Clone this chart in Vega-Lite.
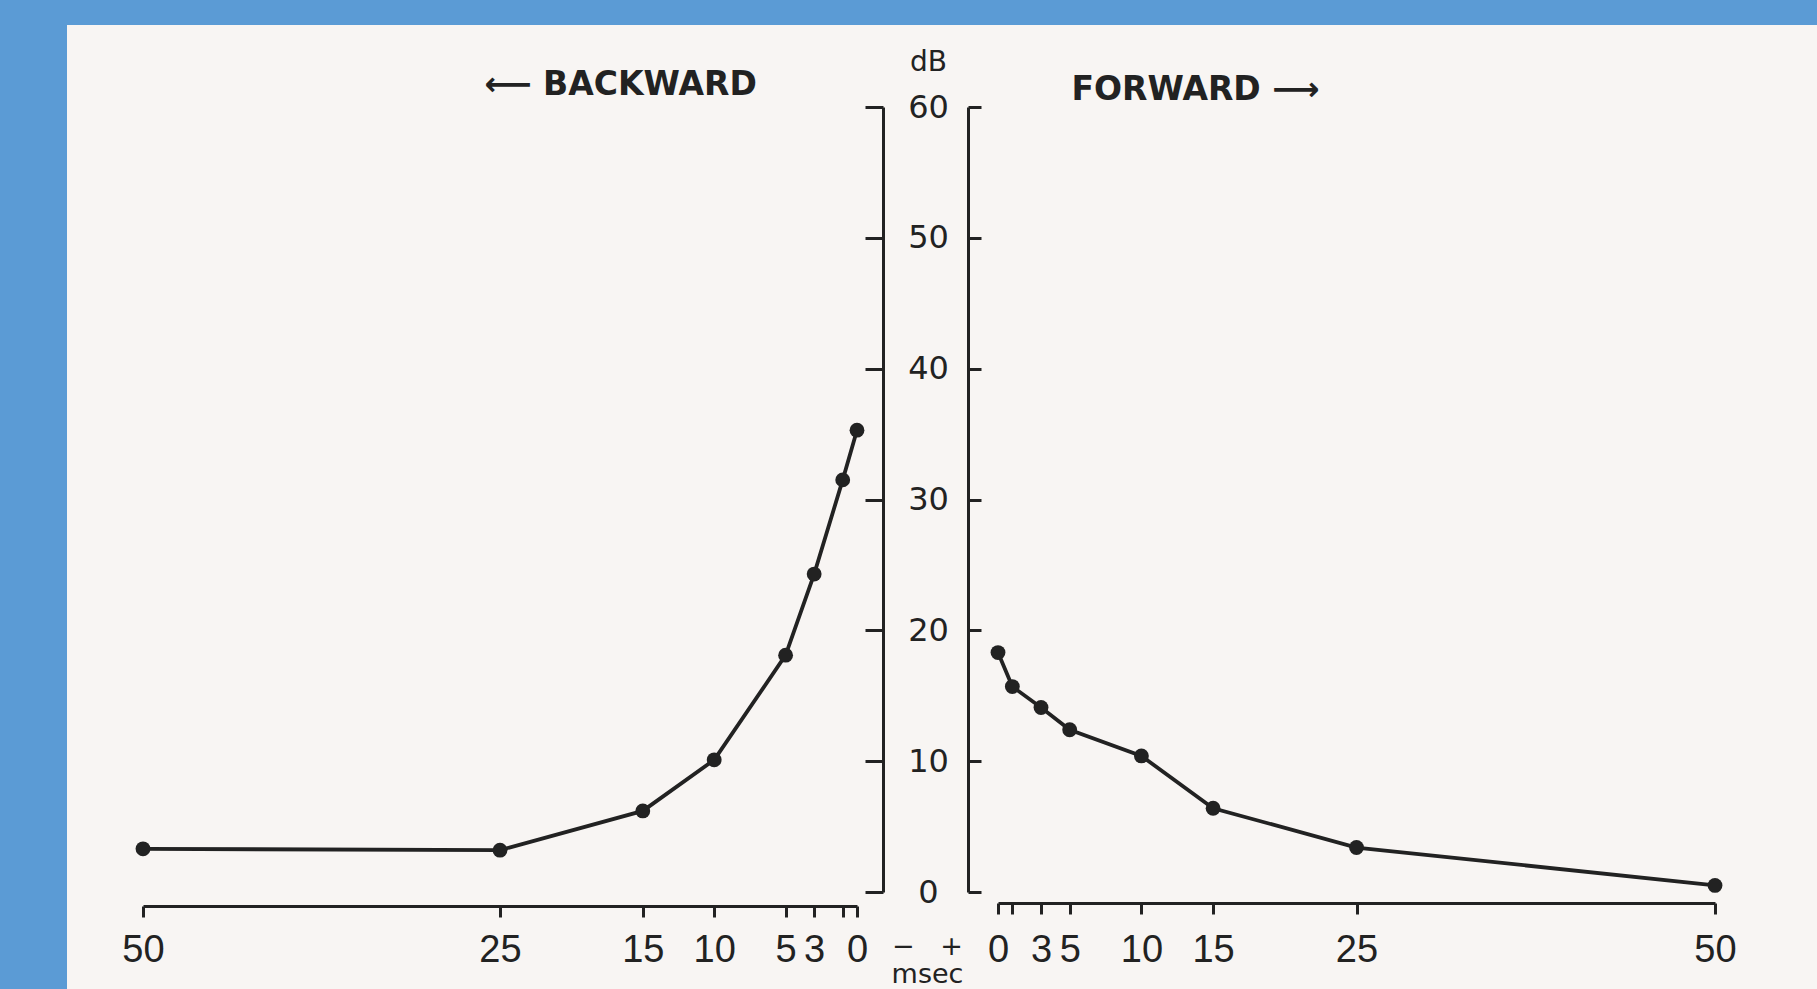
{
  "$schema": "https://vega.github.io/schema/vega-lite/v6.json",
  "width": 1750,
  "height": 964,
  "autosize": {"type": "none"},
  "padding": {"left": 67, "top": 25, "right": 0, "bottom": 0},
  "background": "#5b9bd5",
  "config": {
    "view": {"fill": "#f8f5f3", "stroke": null},
    "font": "DejaVu Sans",
    "axis": {
      "grid": false,
      "domainColor": "#222222",
      "domainWidth": 3,
      "tickColor": "#222222",
      "tickWidth": 3,
      "labelColor": "#222222",
      "titleColor": "#222222",
      "labelOverlap": false,
      "labelFlush": false,
      "labelBound": false
    }
  },
  "datasets": {
    "backward": [
      {"ms": 50, "dB": 3.3},
      {"ms": 25, "dB": 3.2},
      {"ms": 15, "dB": 6.2},
      {"ms": 10, "dB": 10.1},
      {"ms": 5, "dB": 18.1},
      {"ms": 3, "dB": 24.3},
      {"ms": 1, "dB": 31.5},
      {"ms": 0, "dB": 35.3}
    ],
    "forward": [
      {"ms": 0, "dB": 18.3},
      {"ms": 1, "dB": 15.7},
      {"ms": 3, "dB": 14.1},
      {"ms": 5, "dB": 12.4},
      {"ms": 10, "dB": 10.4},
      {"ms": 15, "dB": 6.4},
      {"ms": 25, "dB": 3.4},
      {"ms": 50, "dB": 0.5}
    ]
  },
  "layer": [
    {
      "data": {"name": "backward"},
      "encoding": {
        "x": {
          "field": "ms",
          "type": "quantitative",
          "scale": {"domain": [0, 50], "range": [790, 76], "nice": false},
          "axis": {
            "orient": "bottom",
            "offset": -83,
            "values": [0, 1, 3, 5, 10, 15, 25, 50],
            "labelExpr": "datum.value == 1 ? '' : datum.label",
            "tickSize": 11,
            "labelFont": "Liberation Sans",
            "labelFontSize": 38,
            "labelPadding": 14,
            "title": "⟵ BACKWARD",
            "titleFontSize": 33,
            "titleFontWeight": "bold",
            "titleX": 553,
            "titleY": -822,
            "titleAlign": "center",
            "titleBaseline": "middle",
            "titleAnchor": null
          }
        },
        "y": {
          "field": "dB",
          "type": "quantitative",
          "scale": {"domain": [0, 60], "range": [867, 82], "nice": false},
          "axis": {
            "orient": "left",
            "offset": -816,
            "values": [0, 10, 20, 30, 40, 50, 60],
            "tickSize": 18,
            "labelPadding": -63,
            "labelAlign": "center",
            "labelBaseline": "middle",
            "labelFontSize": 32,
            "title": "dB",
            "titleFontSize": 28,
            "titleFontWeight": "normal",
            "titleAngle": 0,
            "titleX": 45,
            "titleY": 37,
            "titleAlign": "center",
            "titleBaseline": "middle"
          }
        }
      },
      "layer": [
        {"mark": {"type": "line", "color": "#222222", "strokeWidth": 3.8}},
        {"mark": {"type": "point", "filled": true, "color": "#222222", "size": 220, "opacity": 1}}
      ]
    },
    {
      "data": {"name": "forward"},
      "encoding": {
        "x": {
          "field": "ms",
          "type": "quantitative",
          "scale": {"domain": [0, 50], "range": [931, 1648], "nice": false},
          "axis": {
            "orient": "bottom",
            "offset": -86,
            "values": [0, 1, 3, 5, 10, 15, 25, 50],
            "labelExpr": "datum.value == 1 ? '' : datum.label",
            "tickSize": 11,
            "labelFont": "Liberation Sans",
            "labelFontSize": 38,
            "labelPadding": 17,
            "title": "FORWARD ⟶",
            "titleFontSize": 33,
            "titleFontWeight": "bold",
            "titleX": 1128,
            "titleY": -814,
            "titleAlign": "center",
            "titleBaseline": "middle",
            "titleAnchor": null
          }
        },
        "y": {
          "field": "dB",
          "type": "quantitative",
          "scale": {"domain": [0, 60], "range": [867, 82], "nice": false},
          "axis": {
            "orient": "right",
            "offset": -849,
            "values": [0, 10, 20, 30, 40, 50, 60],
            "tickSize": 13,
            "labels": false,
            "title": ["−\u00a0\u00a0\u00a0+", "msec"],
            "titleFontSize": 27,
            "titleFontWeight": "normal",
            "titleLineHeight": 28,
            "titleAngle": 0,
            "titleX": -41,
            "titleY": 929,
            "titleAlign": "center",
            "titleBaseline": "alphabetic"
          }
        }
      },
      "layer": [
        {"mark": {"type": "line", "color": "#222222", "strokeWidth": 3.8}},
        {"mark": {"type": "point", "filled": true, "color": "#222222", "size": 220, "opacity": 1}}
      ]
    }
  ],
  "resolve": {
    "scale": {"x": "independent"},
    "axis": {"x": "independent", "y": "independent"}
  }
}
